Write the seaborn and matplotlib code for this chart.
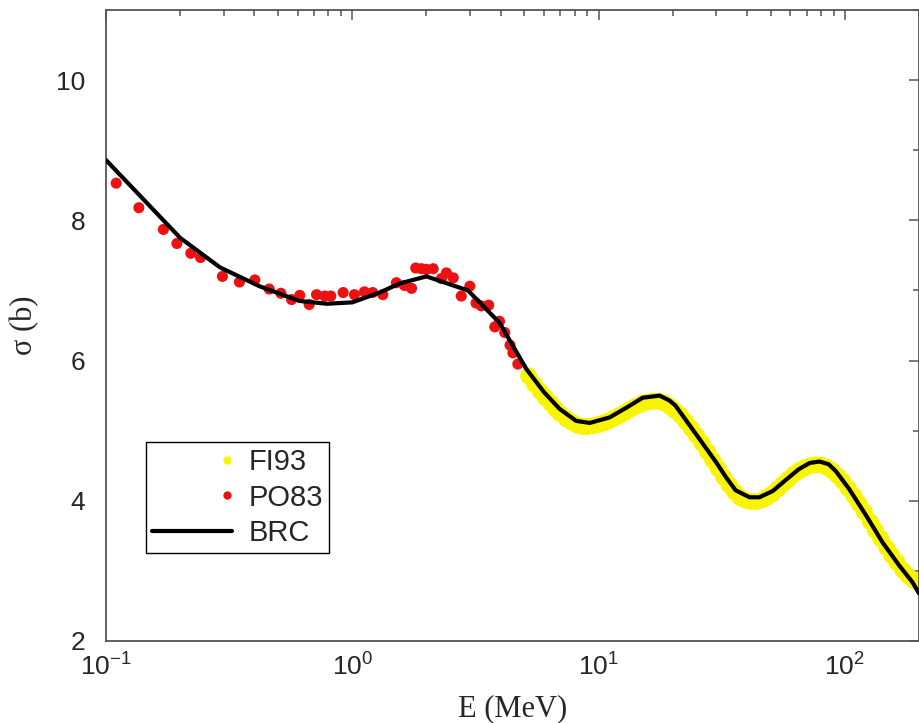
import matplotlib
matplotlib.use("Agg")
import matplotlib.pyplot as plt
from matplotlib.lines import Line2D
from matplotlib.legend_handler import HandlerLine2D
from matplotlib.ticker import MultipleLocator, LogLocator
import numpy as np
import pandas as pd
import seaborn as sns

# ---------------- data ----------------
fi93_E = [5.2, 5.5, 5.8, 6.1, 6.4, 6.7, 7.0, 7.4, 7.8, 8.2, 8.6, 9.0, 9.5, 10, 10.5,
          11, 11.6, 12.2, 12.8, 13.5, 14.2, 15, 15.8, 16.6, 17.5, 18.4, 19.4, 20.4,
          21.5, 22.6, 23.8, 25, 26.3, 27.7, 29.1, 30.6, 32.2, 33.9, 35.6, 37.5, 39.4,
          41.5, 43.6, 45.9, 48.3, 50.8, 53.4, 56.2, 59.1, 62.2, 65.4, 68.8, 72.4, 76.2,
          80.1, 84.3, 88.7, 93.3, 98.1, 103, 109, 114, 120, 127, 133, 140, 148, 155,
          163, 172, 181, 190, 200]
fi93_sigma = [5.78, 5.66, 5.56, 5.47, 5.39, 5.31, 5.24, 5.17, 5.12, 5.08, 5.06, 5.06,
              5.07, 5.09, 5.11, 5.14, 5.18, 5.22, 5.26, 5.31, 5.35, 5.39, 5.41, 5.42,
              5.42, 5.40, 5.35, 5.29, 5.22, 5.13, 5.03, 4.93, 4.82, 4.70, 4.58, 4.46,
              4.34, 4.23, 4.13, 4.05, 4.01, 3.99, 3.99, 4.01, 4.05, 4.10, 4.17, 4.24,
              4.31, 4.38, 4.43, 4.47, 4.50, 4.51, 4.51, 4.48, 4.43, 4.36, 4.28, 4.18,
              4.07, 3.96, 3.84, 3.70, 3.58, 3.46, 3.33, 3.22, 3.12, 3.01, 2.93, 2.87, 2.82]

po83_E = [0.110, 0.136, 0.171, 0.194, 0.221, 0.242, 0.297, 0.348, 0.402, 0.460, 0.513,
          0.567, 0.612, 0.668, 0.716, 0.773, 0.818, 0.918, 1.02, 1.12, 1.21, 1.33,
          1.51, 1.63, 1.74, 1.81, 1.91, 2.00, 2.13, 2.30, 2.41, 2.57, 2.77, 3.00,
          3.18, 3.34, 3.58, 3.79, 3.96, 4.16, 4.37, 4.49, 4.70]
po83_sigma = [8.53, 8.18, 7.87, 7.67, 7.53, 7.47, 7.20, 7.12, 7.15, 7.02, 6.96,
              6.87, 6.93, 6.80, 6.94, 6.92, 6.92, 6.97, 6.94, 6.98, 6.97, 6.94,
              7.11, 7.07, 7.03, 7.32, 7.31, 7.30, 7.31, 7.17, 7.25, 7.18, 6.92, 7.06,
              6.82, 6.78, 6.79, 6.48, 6.56, 6.40, 6.22, 6.11, 5.95]

brc_E = [0.1, 0.2, 0.29, 0.42, 0.61, 0.79, 1.0, 1.29, 1.56, 2.0, 2.95, 3.96, 5.09,
         6.0, 6.95, 8.1, 9.2, 11.1, 13.0, 15.1, 17.7, 19.4, 20.5, 25.7, 30, 33, 36,
         41, 45, 51, 57.7, 65, 72, 79, 86, 92, 104, 122, 142, 166, 188, 200]
brc_sigma = [8.86, 7.75, 7.33, 7.06, 6.85, 6.81, 6.83, 6.97, 7.10, 7.20, 7.00, 6.54, 5.88,
             5.55, 5.31, 5.14, 5.11, 5.19, 5.33, 5.47, 5.50, 5.43, 5.36, 4.88, 4.55, 4.33, 4.15,
             4.05, 4.05, 4.14, 4.30, 4.45, 4.54, 4.56, 4.52, 4.42, 4.17, 3.79, 3.41, 3.08, 2.84, 2.68]

xticks = [0.1, 1, 10, 100]
xtick_labels = [r"$\mathdefault{10^{-1}}$", r"$\mathdefault{10^{0}}$",
                r"$\mathdefault{10^{1}}$", r"$\mathdefault{10^{2}}$"]
yticks = [2, 4, 6, 8, 10]

# ---------------- style ----------------
sns.set_style("white")
plt.rcParams["font.family"] = ["Liberation Sans", "DejaVu Sans"]

fig = plt.figure(figsize=(9.2, 7.23), dpi=100)
ax = fig.add_axes([106 / 920, (723 - 641) / 723, 813 / 920, 631 / 723])

fi_df = pd.DataFrame({"E": fi93_E, "sigma": fi93_sigma})
po_df = pd.DataFrame({"E": po83_E, "sigma": po83_sigma})
brc_df = pd.DataFrame({"E": brc_E, "sigma": brc_sigma})

YEL = "#f9f400"
RED = "#ee1111"

sns.scatterplot(data=fi_df, x="E", y="sigma", ax=ax, color=YEL, s=150,
                edgecolor="none", linewidth=0, zorder=2, legend=False)
sns.scatterplot(data=po_df, x="E", y="sigma", ax=ax, color=RED, s=64,
                edgecolor="none", linewidth=0, zorder=3, legend=False)
sns.lineplot(data=brc_df, x="E", y="sigma", ax=ax, color="black", lw=3.0,
             sort=False, estimator=None, zorder=4, legend=False)

ax.set_xscale("log")
ax.set_xlim(0.1, 200)
ax.set_ylim(2, 11)

ax.set_xticks(xticks)
ax.set_xticklabels(xtick_labels)
ax.xaxis.set_minor_locator(LogLocator(base=10, subs=np.arange(2, 10), numticks=20))
ax.xaxis.set_minor_formatter(plt.NullFormatter())
ax.set_yticks(yticks)
ax.set_yticklabels([str(v) for v in yticks])
ax.yaxis.set_minor_locator(MultipleLocator(1))

for sp in ax.spines.values():
    sp.set_visible(True)
    sp.set_color("#555555")
    sp.set_linewidth(1.3)

ax.tick_params(which="both", direction="in", top=True, right=True,
               color="#555555", width=1.1)
ax.tick_params(which="major", length=7.5)
ax.tick_params(which="minor", length=4.5)
ax.tick_params(axis="y", which="major", labelsize=19, pad=15)
ax.tick_params(axis="x", which="major", labelsize=19, pad=9)

ax.set_xlabel("E (MeV)", family=["Liberation Serif", "DejaVu Serif"], fontsize=22, labelpad=10)
ax.set_ylabel("σ (b)", family=["Liberation Serif", "DejaVu Serif"], fontsize=22, labelpad=12)


class RightMarker(HandlerLine2D):
    def get_xdata(self, legend, xdescent, ydescent, width, height, fontsize):
        x = -xdescent + width - 0.2 * fontsize
        return [x, x], [x]


h_fi = Line2D([], [], ls="none", marker="o", ms=6, color=YEL, mec="none")
h_po = Line2D([], [], ls="none", marker="o", ms=6, color=RED, mec="none")
h_brc = Line2D([], [], color="black", lw=3)

leg = ax.legend([h_fi, h_po, h_brc], ["FI93", "PO83", "BRC"],
                loc="lower left", bbox_to_anchor=(0.049, 0.139),
                fontsize=21, frameon=True, fancybox=False, framealpha=1,
                edgecolor="black", handlelength=2.75, handletextpad=0.55,
                labelspacing=0.25, borderpad=0.22, borderaxespad=0,
                handler_map={h_fi: RightMarker(numpoints=1),
                             h_po: RightMarker(numpoints=1)})
leg.get_frame().set_linewidth(1.0)

fig.savefig("out.png", dpi=100)
